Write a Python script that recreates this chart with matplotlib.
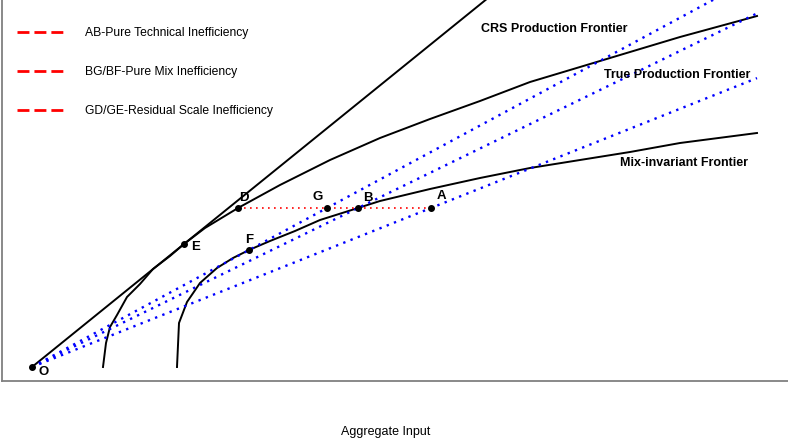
import numpy as np
import matplotlib
matplotlib.use("Agg")
import matplotlib.pyplot as plt
from matplotlib.lines import Line2D

plt.rcParams['font.family'] = ['Liberation Sans', 'DejaVu Sans']

# points (aggregate input, aggregate output)
point_names = ["O", "E", "D", "G", "B", "A", "F"]
point_x = [3.0, 18.2, 23.6, 32.5, 35.6, 42.9, 24.7]
point_y = [1.4, 13.7, 17.3, 17.3, 17.3, 17.3, 13.1]

# true production frontier
true_x = [10.1, 10.4, 10.8, 11.5, 12.5, 13.8, 15.1, 16.8, 18.2, 20.3, 23.6,
          27.8, 32.8, 37.8, 42.8, 47.8, 52.8, 57.8, 62.8, 67.8, 75.5]
true_y = [1.4, 3.8, 5.4, 6.6, 8.4, 9.7, 11.2, 12.5, 13.7, 15.3, 17.3,
          19.6, 22.1, 24.3, 26.2, 28.0, 29.9, 31.4, 32.9, 34.4, 36.5]

# mix-invariant frontier
mix_x = [17.5, 17.7, 18.5, 19.8, 21.5, 23.1, 24.7, 26.8, 29.3, 31.8, 35.6,
         37.8, 42.8, 47.8, 52.8, 57.8, 62.8, 67.8, 75.5]
mix_y = [1.4, 5.8, 7.9, 9.8, 11.3, 12.3, 13.1, 14.0, 15.0, 16.1, 17.3,
         18.0, 19.2, 20.3, 21.3, 22.1, 22.9, 23.8, 24.8]

legend_labels = ["AB-Pure Technical Inefficiency",
                 "BG/BF-Pure Mix Inefficiency",
                 "GD/GE-Residual Scale Inefficiency"]

pts = dict(zip(point_names, zip(point_x, point_y)))
x_end = true_x[-1]

fig = plt.figure(figsize=(7.88, 4.43), dpi=100)
ax = fig.add_axes([2 / 788, 62 / 443, 786 / 788, 381 / 443])
ax.set_xlim(0, 78.6)
ax.set_ylim(0, 38.1)

ox, oy = pts["O"]

# CRS frontier: ray from O through E
ex, ey = pts["E"]
slope = (ey - oy) / (ex - ox)
ax.plot([ox, x_end], [oy, oy + slope * (x_end - ox)], color="black", lw=1.4)

ax.plot(true_x, true_y, color="black", lw=1.4)
ax.plot(mix_x, mix_y, color="black", lw=1.4)

# rays from origin through G, B, A
for name in ["G", "B", "A"]:
    px, py = pts[name]
    s = (py - oy) / (px - ox)
    ax.plot([ox, x_end], [oy, oy + s * (x_end - ox)], color="blue", lw=1.7,
            linestyle=(0, (1, 2.3)))

# horizontal D..A
ax.plot([pts["D"][0], pts["A"][0]], [pts["D"][1], pts["A"][1]], color="red",
        lw=1.2, linestyle=(0, (1, 2.6)))

ax.plot(point_x, point_y, "o", color="black", ms=4, zorder=5)

label_off = {"O": (1.2, -0.5), "E": (1.2, -0.3), "D": (0.6, 1.0), "G": (-0.9, 1.1),
             "B": (1.0, 1.0), "A": (1.0, 1.2), "F": (0.0, 1.0)}
for n in point_names:
    dx, dy = label_off[n]
    ax.text(pts[n][0] + dx, pts[n][1] + dy, n, fontsize=9.5, fontweight="bold",
            ha="center", va="center")

ax.text(55.2, 35.2, "CRS Production Frontier", fontsize=9, fontweight="bold",
        ha="center", va="center")
ax.text(67.5, 30.6, "True Production Frontier", fontsize=9, fontweight="bold",
        ha="center", va="center")
ax.text(68.2, 21.8, "Mix-invariant Frontier", fontsize=9, fontweight="bold",
        ha="center", va="center")

handles = [Line2D([0], [0], color="red", lw=2, linestyle=(0, (4.3, 1.8)))
           for _ in legend_labels]
ax.legend(handles, legend_labels, loc="upper left", bbox_to_anchor=(15 / 786, 1 - 27 / 381),
          frameon=False, fontsize=8.7, handlelength=3.8, handletextpad=1.8,
          labelspacing=2.25, borderaxespad=0, borderpad=0)

for side in ["top", "right"]:
    ax.spines[side].set_visible(False)
for side in ["left", "bottom"]:
    ax.spines[side].set_color("#808080")
    ax.spines[side].set_linewidth(1.3)
ax.set_xticks([])
ax.set_yticks([])

ax.set_xlabel("Aggregate Input", fontsize=9)
ax.xaxis.set_label_coords(384 / 786, -45 / 381)

fig.savefig("out.png", dpi=100)
